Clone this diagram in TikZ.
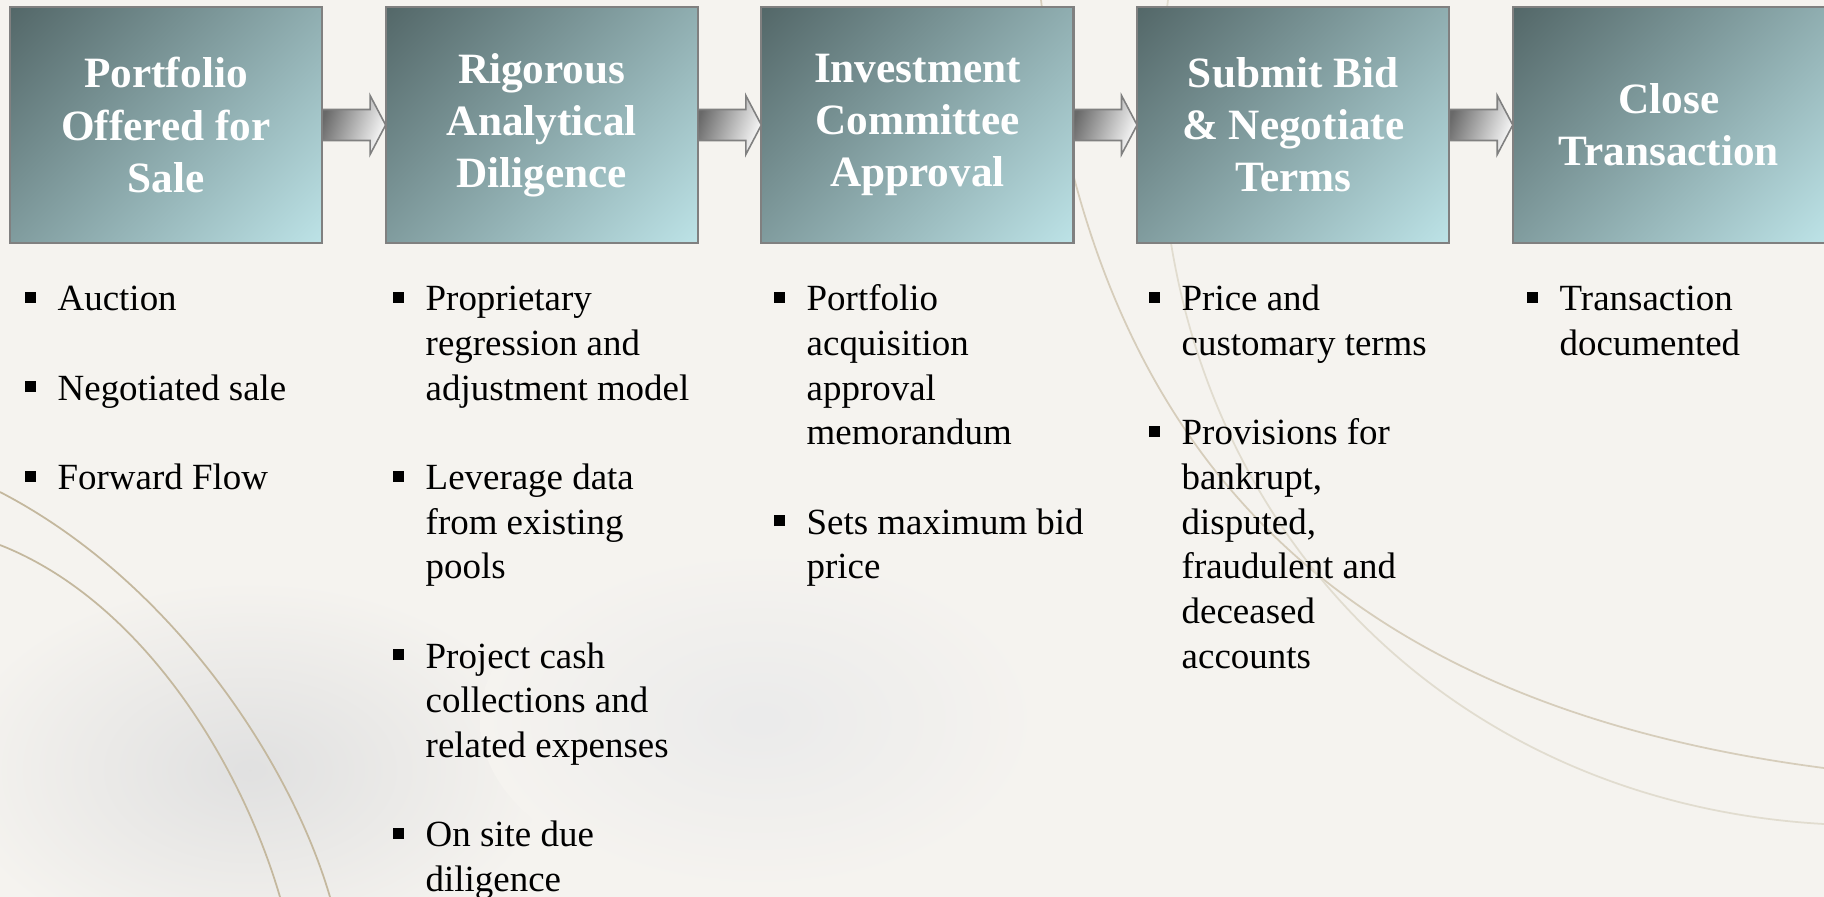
\documentclass[tikz,border=0pt]{standalone}
\usepackage{fontspec}
\setmainfont{Liberation Serif}
\usetikzlibrary{positioning, calc}

\definecolor{paper}{RGB}{245,243,239}
\definecolor{stagedark}{RGB}{84,104,105}
\definecolor{stagelight}{RGB}{188,226,230}
\definecolor{stageedge}{RGB}{128,128,128}
\definecolor{flowdark}{RGB}{105,105,105}
\definecolor{flowlight}{RGB}{250,250,250}
\definecolor{wire}{RGB}{196,184,158}

% corner to corner fill of the stage boxes
\pgfdeclareverticalshading{stagefill}{100bp}{color(0bp)=(stagelight); color(15bp)=(stagelight);
    color(85bp)=(stagedark); color(100bp)=(stagedark)}

% small square bullet hung left of the text
\newcommand{\sqbullet}{\llap{\rule[2.3pt]{3.1pt}{3.1pt}\hspace{6.3pt}}}
\newcommand{\itemgap}{\\[12.7pt]}

\begin{document}
\begin{tikzpicture}[
        x=0.01cm, y=-0.01cm,
        stage/.style={draw=stageedge, line width=0.6pt,
            shading=stagefill, shading angle=45,
            minimum width=3.12cm, minimum height=2.36cm,
            inner sep=0pt, outer sep=0pt, align=center, text=white,
            font=\fontsize{12.3pt}{14.8pt}\selectfont\bfseries},
        flow/.style={draw=stageedge, line width=0.45pt,
            top color=flowdark, bottom color=flowlight, shading angle=70},
        points/.style={anchor=north west, inner sep=0pt, align=left,
            font=\fontsize{10.5pt}{12.7pt}\selectfont}
    ]
    \useasboundingbox (0,0) rectangle (1824,897);

    % paper background with a few faint wires and smudges
    \fill[paper] (0,0) rectangle (1824,897);
    \shade[inner color=black!12, outer color=paper] (250,770) ellipse (300 and 190);
    \shade[inner color=black!8, outer color=paper] (760,720) ellipse (280 and 170);
    \draw[wire, line width=0.5pt] (0,492) .. controls (170,580) and (290,760) .. (330,897);
    \draw[wire, line width=0.5pt] (0,545) .. controls (140,600) and (240,760) .. (280,897);
    \draw[wire!70, line width=0.5pt] (1041,0) .. controls (1090,420) and (1300,700) .. (1824,768);
    \draw[wire!50, line width=0.5pt] (1168,0) .. controls (1110,450) and (1400,800) .. (1824,824);

    % process stages
    \node[stage] (offer) at (166,125) {Portfolio\\Offered for\\Sale};
    \node[stage, right=0.635cm of offer] (diligence) {Rigorous\\Analytical\\Diligence};
    \node[stage, right=0.635cm of diligence] (committee) {Investment\\Committee\\Approval};
    \node[stage, right=0.635cm of committee] (bid) {Submit Bid\\\& Negotiate\\Terms};
    \node[stage, right=0.635cm of bid] (close) {Close\\Transaction};

    % block arrows between stages
    \foreach \a/\b in {offer/diligence, diligence/committee, committee/bid, bid/close}
        \draw[flow] ($(\a.east)+(0,-15.5)$) -| ($(\a.east)+(48,-29.5)$) -- (\b.west)
            -- ($(\a.east)+(48,29.5)$) |- ($(\a.east)+(0,15.5)$) -- cycle;

    % bullet points under each stage
    \node[points] (offerpts) at (57,279) {\strut\sqbullet Auction\itemgap
        \sqbullet Negotiated sale\itemgap
        \sqbullet Forward Flow};
    \node[points] (diligencepts) at (425,279) {\strut\sqbullet Proprietary\\regression and\\adjustment model\itemgap
        \sqbullet Leverage data\\from existing\\pools\itemgap
        \sqbullet Project cash\\collections and\\related expenses\itemgap
        \sqbullet On site due\\diligence};
    \node[points] (committeepts) at (806,279) {\strut\sqbullet Portfolio\\acquisition\\approval\\memorandum\itemgap
        \sqbullet Sets maximum bid\\price};
    \node[points] (bidpts) at (1181,279) {\strut\sqbullet Price and\\customary terms\itemgap
        \sqbullet Provisions for\\bankrupt,\\disputed,\\fraudulent and\\deceased\\accounts};
    \node[points] (closepts) at (1559,279) {\strut\sqbullet Transaction\\documented};
\end{tikzpicture}
\end{document}
